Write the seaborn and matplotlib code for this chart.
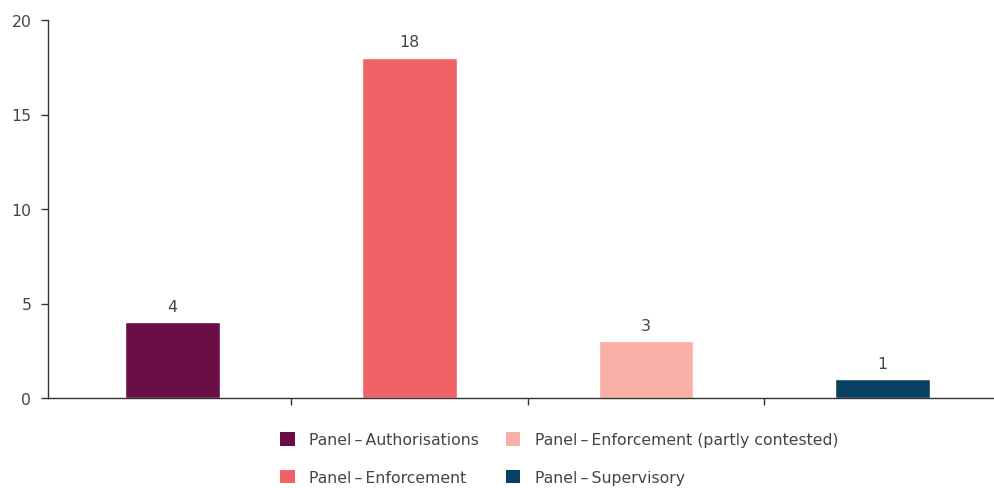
import matplotlib
matplotlib.use("Agg")
import matplotlib.pyplot as plt
from matplotlib.patches import Patch
import seaborn as sns
import pandas as pd

categories = [
    "Panel\u2009\u2013\u2009Authorisations",
    "Panel\u2009\u2013\u2009Enforcement",
    "Panel\u2009\u2013\u2009Enforcement (partly contested)",
    "Panel\u2009\u2013\u2009Supervisory",
]
cases = [4, 18, 3, 1]
colors = ["#6A0F45", "#F16165", "#F8AFA6", "#084063"]
y_ticks = [0, 5, 10, 15, 20]

df = pd.DataFrame({"category": categories, "cases": cases})
palette = dict(zip(categories, colors))

sns.set_theme(style="white")
plt.rcParams["font.family"] = ["DejaVu Sans"]
text_color = "#454545"
axis_color = "#333333"
fs = 11.3

fig = plt.figure(figsize=(9.95, 4.89), dpi=100)
ax = fig.add_axes([48 / 995, 1 - 399 / 489, (995 - 48) / 995, (399 - 21) / 489])

sns.barplot(data=df, x="category", y="cases", hue="category", palette=palette,
            width=0.4, dodge=False, legend=False, ax=ax, saturation=1)

for container in ax.containers:
    ax.bar_label(container, fmt="%d", padding=6, fontsize=fs, color=text_color)

ax.set_xlim(-0.526, 3.474)
ax.set_ylim(0, 20)
ax.set_yticks(y_ticks)
ax.set_yticklabels([str(t) for t in y_ticks], fontsize=fs, color=text_color)
ax.set_xticks([0.5, 1.5, 2.5])
ax.set_xticklabels([])
ax.set_xlabel("")
ax.set_ylabel("")

for side in ("top", "right"):
    ax.spines[side].set_visible(False)
for side in ("left", "bottom"):
    ax.spines[side].set_color(axis_color)
    ax.spines[side].set_linewidth(1.0)
ax.tick_params(axis="both", which="major", direction="out", length=5,
               width=1.0, color=axis_color, left=True, bottom=True)
ax.tick_params(axis="y", pad=7)

handles = [Patch(facecolor=c, edgecolor="none", label=l) for l, c in zip(categories, colors)]
fig.legend(handles=handles, ncol=2, loc="upper left",
           bbox_to_anchor=(280 / 995, 1 - 433 / 489), frameon=False,
           fontsize=fs, labelcolor=text_color, handlelength=0.95, handleheight=0.95,
           handletextpad=0.9, columnspacing=1.7, labelspacing=1.45, borderaxespad=0,
           borderpad=0)

fig.savefig("out.png", dpi=100, facecolor="white")
